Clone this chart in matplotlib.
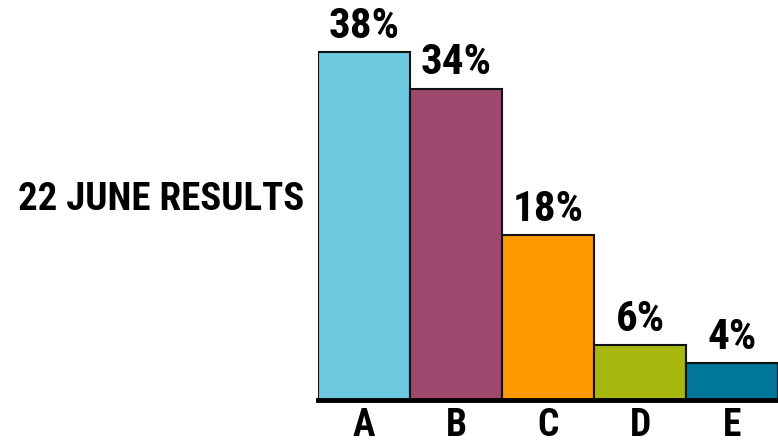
import matplotlib.pyplot as plt

categories = ['A', 'B', 'C', 'D', 'E']
values = [38, 34, 18, 6, 4]
colors = ['#6ec8e0', '#9e486e', '#ff9900', '#a8b70e', '#007799']
title = '22 JUNE RESULTS'

font = ['Roboto Condensed', 'DejaVu Sans Condensed', 'DejaVu Sans']

fig = plt.figure(figsize=(7.78, 4.45), dpi=100)
ax = fig.add_axes([318 / 778, 45 / 445, 460 / 778, 400 / 445])

x = range(len(categories))
ax.bar(x, values, width=1.0, color=colors, edgecolor='#111111', linewidth=1.5)
for i, v in zip(x, values):
    ax.text(i, v + 0.6, f'{v}%', ha='center', va='bottom', fontsize=31,
            fontweight='bold', family=font, fontstretch='condensed')

ax.set_xlim(-0.5, len(categories) - 0.5)
ax.set_ylim(0, 400 / 9.15)
ax.set_xticks(list(x))
ax.set_xticklabels(categories, fontsize=27, fontweight='bold', family=font,
                   fontstretch='condensed')
ax.tick_params(axis='x', length=0, pad=5)
ax.set_yticks([])
for s in ['top', 'right', 'left']:
    ax.spines[s].set_visible(False)
ax.spines['bottom'].set_linewidth(3.5)
ax.spines['bottom'].set_color('black')

fig.text(18 / 778, 1 - 199 / 445, title, ha='left', va='center', fontsize=28,
         fontweight='bold', family=font, fontstretch='condensed')

fig.savefig('out.png', dpi=100)
